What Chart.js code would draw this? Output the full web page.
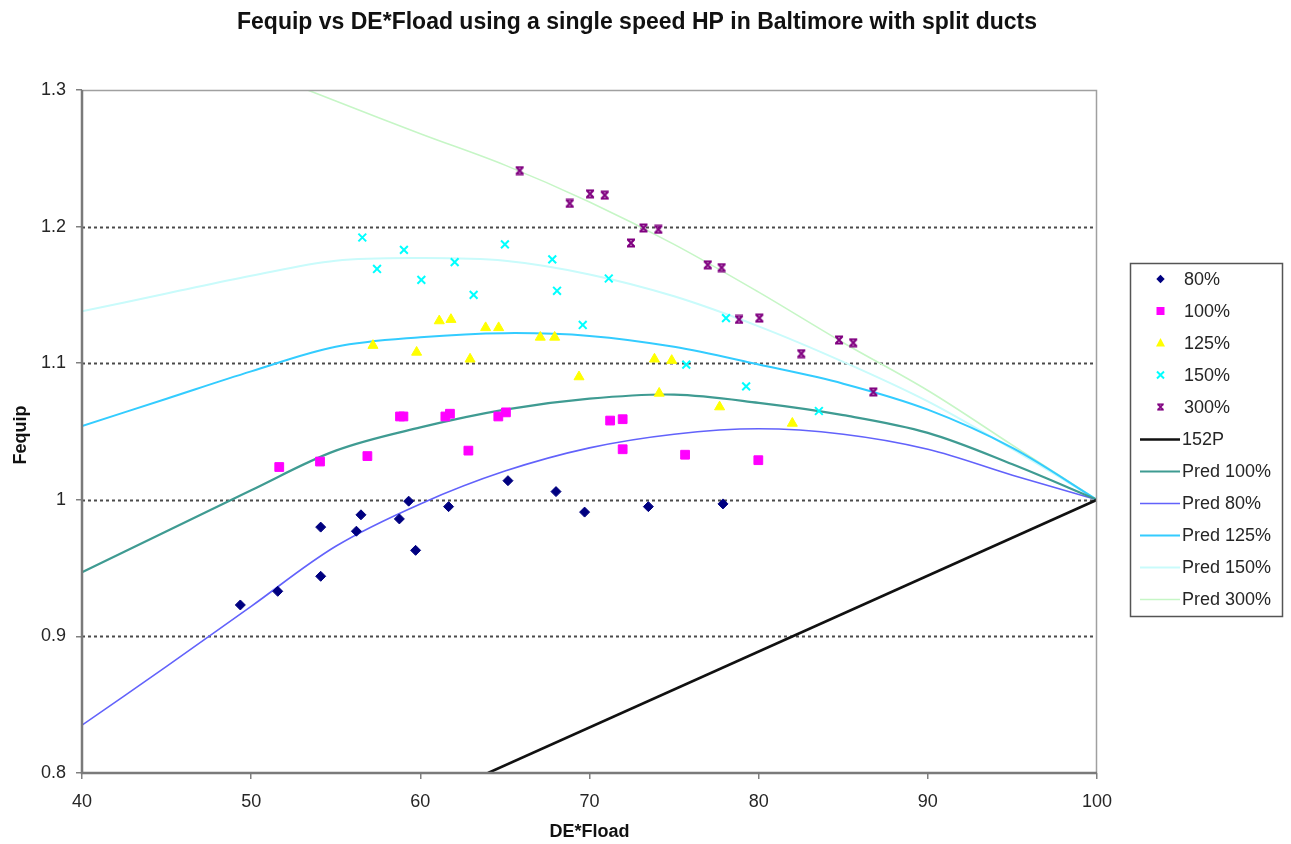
<!DOCTYPE html>
<html>
<head>
<meta charset="utf-8">
<script src="https://cdn.jsdelivr.net/npm/chart.js@4/dist/chart.umd.min.js"></script>
<style>
  html, body { margin: 0; padding: 0; background: #ffffff; }
  #wrap { width: 1291px; height: 844px; }
</style>
</head>
<body>
<div id="wrap"><canvas id="c" width="1291" height="844"></canvas></div>
<script>
// ---- measured runs (DE*Fload, Fequip) ----
const run80x  = [49.36, 51.57, 54.11, 54.11, 56.22, 56.49, 58.76, 59.31, 59.72, 61.67, 65.18, 68.02, 69.71, 73.48, 77.89];
const run80y  = [0.923, 0.933, 0.944, 0.980, 0.977, 0.989, 0.986, 0.999, 0.963, 0.995, 1.014, 1.006, 0.991, 0.995, 0.997];
const run100x = [51.66, 54.07, 56.87, 58.80, 59.00, 61.48, 61.75, 62.84, 64.61, 65.06, 71.22, 71.96, 71.96, 75.65, 79.98];
const run100y = [1.024, 1.028, 1.032, 1.061, 1.061, 1.061, 1.063, 1.036, 1.061, 1.064, 1.058, 1.059, 1.037, 1.033, 1.029];
const run125x = [57.20, 59.78, 61.12, 61.81, 62.94, 63.86, 64.63, 67.09, 67.94, 69.38, 73.84, 74.86, 74.12, 77.69, 81.99];
const run125y = [1.113, 1.108, 1.131, 1.132, 1.103, 1.126, 1.126, 1.119, 1.119, 1.090, 1.103, 1.102, 1.078, 1.068, 1.056];
const run150x = [56.57, 57.44, 59.03, 60.06, 62.03, 63.15, 65.00, 67.80, 68.08, 69.60, 71.14, 75.72, 78.07, 79.26, 83.56];
const run150y = [1.192, 1.169, 1.183, 1.161, 1.174, 1.150, 1.187, 1.176, 1.153, 1.128, 1.162, 1.099, 1.133, 1.083, 1.065];
const run300x = [65.87, 68.83, 70.03, 70.90, 72.45, 73.19, 74.07, 76.99, 77.81, 78.84, 80.04, 82.52, 84.75, 85.59, 86.78];
const run300y = [1.241, 1.217, 1.224, 1.223, 1.188, 1.199, 1.198, 1.172, 1.170, 1.132, 1.133, 1.107, 1.117, 1.115, 1.079];

// ---- 152P reference line ----
const ref152x = [64, 100];
const ref152y = [0.80, 1.00];

// ---- prediction curves ----
const predX    = [40, 45, 50, 55, 60, 65, 70, 75, 80, 85, 90, 95, 100];
const pred100  = [0.947, 0.977, 1.007, 1.036, 1.053, 1.066, 1.074, 1.077, 1.071, 1.062, 1.049, 1.026, 1.000];
const pred80   = [0.835, 0.878, 0.922, 0.966, 0.997, 1.021, 1.038, 1.048, 1.052, 1.048, 1.037, 1.018, 1.000];
const pred125  = [1.054, 1.074, 1.094, 1.112, 1.119, 1.122, 1.120, 1.112, 1.099, 1.085, 1.066, 1.038, 1.000];
const pred150  = [1.138, 1.151, 1.164, 1.175, 1.177, 1.175, 1.165, 1.149, 1.127, 1.101, 1.072, 1.037, 1.000];
const pred300  = [1.364, 1.340, 1.316, 1.292, 1.268, 1.245, 1.218, 1.187, 1.152, 1.115, 1.080, 1.040, 1.000];

// ---- axis ticks ----
const xTickValues = [40, 50, 60, 70, 80, 90, 100];
const yTickValues = [0.8, 0.9, 1.0, 1.1, 1.2, 1.3];
const dashedLevels = [0.9, 1.0, 1.1, 1.2];

const titleText = 'Fequip vs DE*Fload using a single speed HP in Baltimore with split ducts';
const xTitle = 'DE*Fload';
const yTitle = 'Fequip';

const FONT = '"Liberation Sans", Arial, Helvetica, sans-serif';
const TEXT = '#262626';

function pairs(xs, ys) { return xs.map((x, i) => ({ x: x, y: ys[i] })); }

// hourglass marker for the 300% run
function hourglass(color) {
  const c = document.createElement('canvas');
  c.width = 10; c.height = 10;
  const g = c.getContext('2d');
  g.strokeStyle = color; g.lineWidth = 2; g.lineCap = 'butt';
  g.beginPath();
  g.moveTo(1, 1.5); g.lineTo(9, 1.5);
  g.moveTo(1, 8.5); g.lineTo(9, 8.5);
  g.moveTo(2, 2); g.lineTo(8, 8);
  g.moveTo(8, 2); g.lineTo(2, 8);
  g.stroke();
  return c;
}
const hgMark = hourglass('#800080');

function markerSet(label, xs, ys, color, style, radius, extra) {
  return Object.assign({
    type: 'scatter', label: label, data: pairs(xs, ys),
    pointStyle: style, pointRadius: radius, pointHoverRadius: radius,
    backgroundColor: color, borderColor: color, borderWidth: 1,
    showLine: false, order: 0
  }, extra || {});
}
function lineSet(label, xs, ys, color, width, tension) {
  return {
    type: 'line', label: label, data: pairs(xs, ys),
    borderColor: color, backgroundColor: color, borderWidth: width,
    pointRadius: 0, pointHoverRadius: 0, fill: false,
    tension: tension, showLine: true, order: 1
  };
}

const datasets = [
  markerSet('80%',  run80x,  run80y,  '#000080', 'rectRot', 5),
  markerSet('100%', run100x, run100y, '#ff00ff', 'rect', 6.2),
  markerSet('125%', run125x, run125y, '#ffff00', 'triangle', 5.8),
  markerSet('150%', run150x, run150y, '#00ffff', 'crossRot', 5.5, { borderWidth: 2 }),
  markerSet('300%', run300x, run300y, '#800080', hgMark, 5),
  lineSet('152P',      ref152x, ref152y, '#111111', 2.6, 0),
  lineSet('Pred 100%', predX, pred100, '#3f9b92', 2.2, 0.35),
  lineSet('Pred 80%',  predX, pred80,  '#6262fb', 1.6, 0.35),
  lineSet('Pred 125%', predX, pred125, '#33ccff', 2.0, 0.35),
  lineSet('Pred 150%', predX, pred150, '#c9fbfb', 2.0, 0.35),
  lineSet('Pred 300%', predX, pred300, '#c6f6c6', 1.6, 0.35)
];

// dashed horizontal reference levels under the data
const gridPlugin = {
  id: 'dashedLevels',
  beforeDatasetsDraw(chart) {
    const { ctx, chartArea: a, scales: { y } } = chart;
    ctx.save();
    ctx.strokeStyle = '#4a4a4a';
    ctx.lineWidth = 2;
    ctx.setLineDash([3, 3]);
    dashedLevels.forEach(v => {
      const py = Math.round(y.getPixelForValue(v)) + 0.5;
      ctx.beginPath(); ctx.moveTo(a.left, py); ctx.lineTo(a.right, py); ctx.stroke();
    });
    ctx.restore();
  }
};

// plot frame, titles and the boxed legend
function drawMarker(ctx, ds, cx, cy) {
  const s = ds.pointStyle;
  ctx.save();
  ctx.fillStyle = ds.backgroundColor;
  ctx.strokeStyle = ds.borderColor;
  ctx.beginPath();
  if (s === 'rectRot') {
    const r = 4.2;
    ctx.moveTo(cx, cy - r); ctx.lineTo(cx + r, cy); ctx.lineTo(cx, cy + r); ctx.lineTo(cx - r, cy); ctx.closePath(); ctx.fill();
  } else if (s === 'rect') {
    ctx.rect(cx - 4, cy - 4, 8, 8); ctx.fill();
  } else if (s === 'triangle') {
    ctx.moveTo(cx, cy - 5); ctx.lineTo(cx + 4.5, cy + 3.5); ctx.lineTo(cx - 4.5, cy + 3.5); ctx.closePath(); ctx.fill();
  } else if (s === 'crossRot') {
    ctx.lineWidth = 2;
    ctx.moveTo(cx - 3.5, cy - 3.5); ctx.lineTo(cx + 3.5, cy + 3.5);
    ctx.moveTo(cx + 3.5, cy - 3.5); ctx.lineTo(cx - 3.5, cy + 3.5); ctx.stroke();
  } else if (s instanceof HTMLCanvasElement) {
    ctx.drawImage(s, cx - 4, cy - 4, 8, 8);
  }
  ctx.restore();
}

const decorPlugin = {
  id: 'decor',
  afterDatasetsDraw(chart) {
    const { ctx, chartArea: a } = chart;
    ctx.save();
    ctx.strokeStyle = '#a0a0a0';
    ctx.lineWidth = 1.5;
    ctx.beginPath();
    ctx.moveTo(a.left, a.top + 0.5); ctx.lineTo(a.right - 0.5, a.top + 0.5); ctx.lineTo(a.right - 0.5, a.bottom);
    ctx.stroke();
    ctx.strokeStyle = '#7a7a7a';
    ctx.lineWidth = 2.5;
    ctx.beginPath();
    ctx.moveTo(a.left, a.top); ctx.lineTo(a.left, a.bottom); ctx.lineTo(a.right, a.bottom);
    ctx.stroke();
    ctx.restore();
  },
  afterDraw(chart) {
    const { ctx, chartArea: a } = chart;
    ctx.save();
    ctx.fillStyle = '#111111';
    ctx.font = 'bold 23px ' + FONT;
    ctx.textAlign = 'center';
    ctx.textBaseline = 'alphabetic';
    ctx.fillText(titleText, 637, 29);

    ctx.font = 'bold 18px ' + FONT;
    ctx.textBaseline = 'middle';
    ctx.fillText(xTitle, (a.left + a.right) / 2, 832);
    ctx.save();
    ctx.translate(21, 435);
    ctx.rotate(-Math.PI / 2);
    ctx.fillText(yTitle, 0, 0);
    ctx.restore();

    // legend box
    const bx = 1130.5, by = 263.5, bw = 152, bh = 353;
    ctx.fillStyle = '#ffffff';
    ctx.fillRect(bx, by, bw, bh);
    ctx.strokeStyle = '#555555';
    ctx.lineWidth = 1.5;
    ctx.strokeRect(bx, by, bw, bh);
    ctx.font = '18px ' + FONT;
    ctx.fillStyle = TEXT;
    ctx.textAlign = 'left';
    chart.data.datasets.forEach((ds, i) => {
      const cy = 279 + i * 32;
      if (ds.type === 'line') {
        ctx.save();
        ctx.strokeStyle = ds.borderColor;
        ctx.lineWidth = ds.borderWidth;
        ctx.beginPath(); ctx.moveTo(1140, cy + 0.5); ctx.lineTo(1180, cy + 0.5); ctx.stroke();
        ctx.restore();
      } else {
        drawMarker(ctx, ds, 1160.5, cy);
      }
      ctx.fillStyle = TEXT;
      ctx.fillText(ds.label, ds.type === 'line' ? 1182 : 1184, cy + 1);
    });
    ctx.restore();
  }
};

new Chart(document.getElementById('c'), {
  data: { datasets: datasets },
  options: {
    responsive: false,
    animation: false,
    devicePixelRatio: 1,
    layout: { padding: { top: 90, right: 194, bottom: 0, left: 0 } },
    plugins: {
      legend: { display: false },
      title: { display: false },
      tooltip: { enabled: false }
    },
    scales: {
      x: {
        type: 'linear', min: 40, max: 100,
        afterBuildTicks: s => { s.ticks = xTickValues.map(v => ({ value: v })); },
        afterFit: s => { s.height = 71; },
        ticks: { color: TEXT, font: { family: FONT, size: 18 }, padding: 12, maxRotation: 0 },
        grid: { display: true, drawOnChartArea: false, drawTicks: true, tickLength: 6, color: '#808080', lineWidth: 1.5 },
        border: { display: false }
      },
      y: {
        type: 'linear', min: 0.8, max: 1.3,
        afterBuildTicks: s => { s.ticks = yTickValues.map(v => ({ value: v })); },
        afterFit: s => { s.width = 82; },
        ticks: {
          color: TEXT, font: { family: FONT, size: 18 }, padding: 10,
          callback: v => String(Math.round(v * 10) / 10)
        },
        grid: { display: true, drawOnChartArea: false, drawTicks: true, tickLength: 6, color: '#808080', lineWidth: 1.5 },
        border: { display: false }
      }
    }
  },
  plugins: [gridPlugin, decorPlugin]
});
</script>
</body>
</html>
